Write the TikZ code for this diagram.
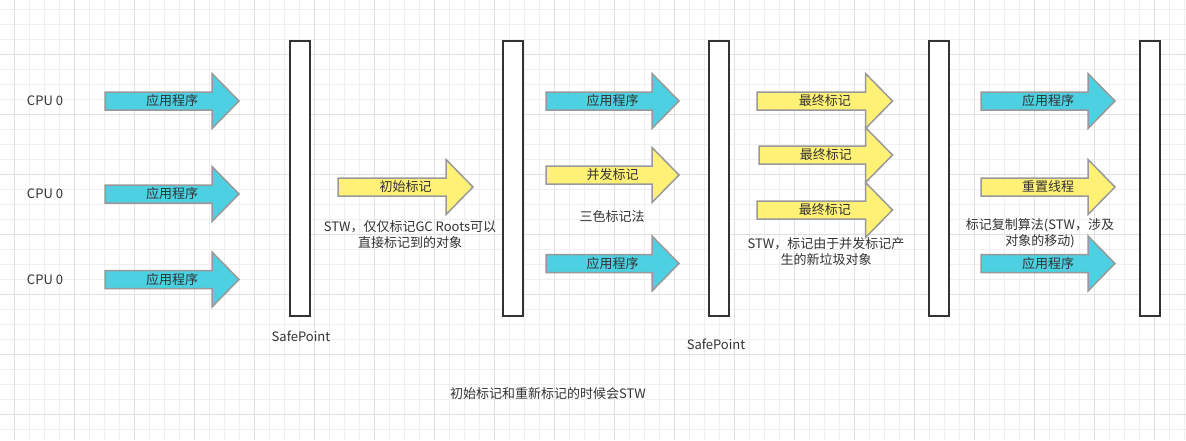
\documentclass[tikz,border=0pt]{standalone}
\usepackage{fontspec}
\setmainfont{Noto Sans CJK SC}
\usetikzlibrary{positioning}
\usepackage{xcolor}

\definecolor{appblue}{HTML}{4DD0E1}
\definecolor{markyellow}{HTML}{FFF176}
\definecolor{edgegray}{HTML}{999999}
\definecolor{txt}{HTML}{333333}
\definecolor{gridminor}{HTML}{EFEFEF}
\definecolor{gridmajor}{HTML}{E0E0E0}

\tikzset{
  bar/.style={draw=txt, line width=2pt, fill=white, minimum width=20pt, minimum height=275pt, inner sep=0pt},
  arrowbody/.style={draw=edgegray, line width=1.5pt, line join=miter},
  lbl/.style={text=txt, font=\fontsize{13}{16}\selectfont, inner sep=0pt, align=center},
}

% block arrow: name, left x, tip x, centre y, fill, label
\newcommand{\flowarrow}[6]{%
  \draw[arrowbody, fill=#5] (#2,#4-9) -- (#3-27,#4-9) -- (#3-27,#4-27.5) -- (#3,#4)
    -- (#3-27,#4+27.5) -- (#3-27,#4+9) -- (#2,#4+9) -- cycle;
  \node[lbl] (#1) at ({(#2+#3)/2},#4) {#6};%
}

\begin{document}
\begin{tikzpicture}[x=1pt, y=-1pt]
    \useasboundingbox (0,0) rectangle (1186,440);
    \fill[white] (0,0) rectangle (1186,440);

    % grid
    \foreach \i in {0,...,78} \draw[gridminor, line width=1pt] ({14.3+15*\i},0) -- ({14.3+15*\i},440);
    \foreach \i in {0,...,28} \draw[gridminor, line width=1pt] (0,{9.3+15*\i}) -- (1186,{9.3+15*\i});
    \foreach \i in {0,...,19} \draw[gridmajor, line width=1pt] ({14.3+60*\i},0) -- ({14.3+60*\i},440);
    \foreach \i in {0,...,6} \draw[gridmajor, line width=1pt] (0,{54.3+60*\i}) -- (1186,{54.3+60*\i});

    % safepoint bars
    \node[bar] (sp1) at (300,178.5) {};
    \node[bar] (sp2) at (513,178.5) {};
    \node[bar] (sp3) at (719,178.5) {};
    \node[bar] (sp4) at (939,178.5) {};
    \node[bar] (sp5) at (1150,178.5) {};

    \node[lbl] (cpu1) at (45,101) {CPU 0};
    \node[lbl] (cpu2) at (45,194) {CPU 0};
    \node[lbl] (cpu3) at (45,280) {CPU 0};

    \flowarrow{app1}{105}{239}{101}{appblue}{应用程序}
    \flowarrow{app2}{105}{239}{194}{appblue}{应用程序}
    \flowarrow{app3}{105}{239}{279.5}{appblue}{应用程序}

    \flowarrow{initmark}{338}{473}{187}{markyellow}{初始标记}
    \node[lbl] (initnote) at (410,235) {STW，仅仅标记GC Roots可以\\直接标记到的对象};

    \flowarrow{conapp1}{546}{679}{101}{appblue}{应用程序}
    \flowarrow{conmark}{546}{679}{175}{markyellow}{并发标记}
    \node[lbl] (connote) at (612,217) {三色标记法};
    \flowarrow{conapp2}{546}{679}{263.5}{appblue}{应用程序}

    \flowarrow{remark1}{757}{892.5}{101}{markyellow}{最终标记}
    \flowarrow{remark2}{759}{892.5}{155}{markyellow}{最终标记}
    \flowarrow{remark3}{757}{892.5}{210}{markyellow}{最终标记}
    \node[lbl] (remarknote) at (826,252) {STW，标记由于并发标记产\\生的新垃圾对象};

    \flowarrow{cpapp1}{981}{1115}{101}{appblue}{应用程序}
    \flowarrow{reset}{981}{1115}{187}{markyellow}{重置线程}
    \node[lbl] (copynote) at (1040,233) {标记复制算法(STW，涉及\\对象的移动)};
    \flowarrow{cpapp2}{981}{1115}{263.5}{appblue}{应用程序}

    \node[lbl] (safe1) at (301,336) {SafePoint};
    \node[lbl] (safe2) at (716,344) {SafePoint};

    \node[lbl] (summary) at (548,394) {初始标记和重新标记的时候会STW};
\end{tikzpicture}
\end{document}
